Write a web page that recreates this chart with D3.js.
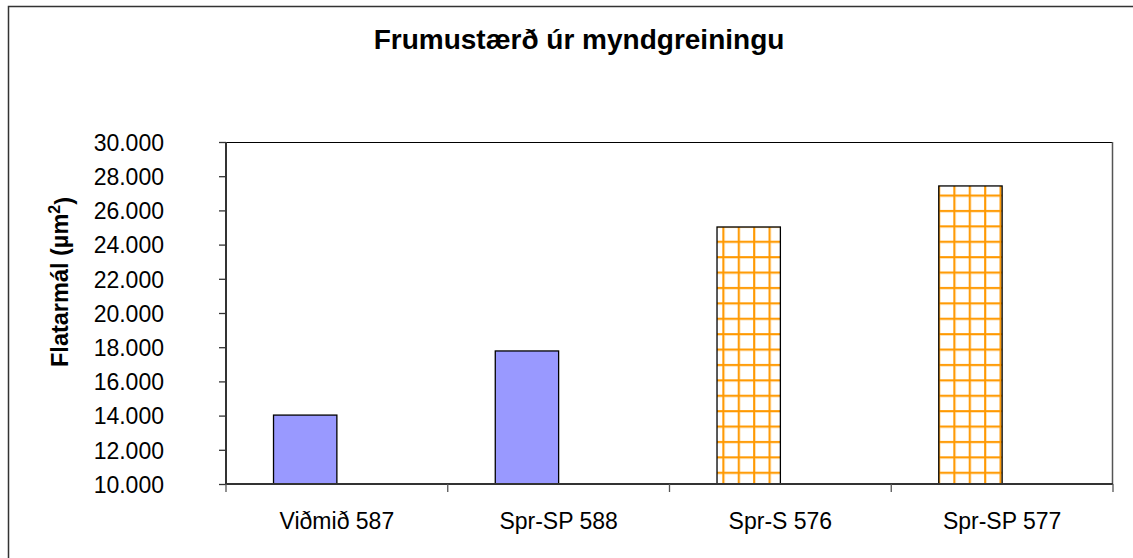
<!DOCTYPE html>
<html>
<head>
<meta charset="utf-8">
<script src="https://cdn.jsdelivr.net/npm/d3@7"></script>
<style>
  body { margin: 0; background: #fff; }
  svg { display: block; font-family: "Liberation Sans", Arial, sans-serif; }
</style>
</head>
<body>
<div id="chart"></div>
<script>

// chart data
const categories = ["Viðmið 587", "Spr-SP 588", "Spr-S 576", "Spr-SP 577"];
const solidSeries = [14030, 17780, null, null];
const gridSeries = [null, null, 25030, 27430];
const yTicks = [10000, 12000, 14000, 16000, 18000, 20000, 22000, 24000, 26000, 28000, 30000];
const titleText = "Frumustærð úr myndgreiningu";

const W = 1133, H = 558;
const margin = {top: 142, right: 20, bottom: 74, left: 226};
const width = W - margin.left - margin.right;
const height = H - margin.top - margin.bottom;

const svg = d3.select("#chart").append("svg")
	.attr("width", W)
	.attr("height", H);

// outer chart border
svg.append("rect")
	.attr("x", 8.5).attr("y", 6.5)
	.attr("width", W + 20).attr("height", H + 20)
	.attr("fill", "none")
	.attr("stroke", "#333")
	.attr("stroke-width", 1.5);

// title
svg.append("text")
	.attr("x", 579).attr("y", 49)
	.attr("text-anchor", "middle")
	.style("font-size", "28px")
	.style("font-weight", "bold")
	.text(titleText);

// orange grid pattern
const cell = 15.4;
const pat = svg.append("defs").append("pattern")
	.attr("id", "grid")
	.attr("patternUnits", "userSpaceOnUse")
	.attr("x", 727.3).attr("y", 237.3)
	.attr("width", cell).attr("height", cell);
pat.append("rect").attr("width", cell).attr("height", cell).attr("fill", "#fff");
[["#ffcf85", 3], ["#ff9900", 1.8]].forEach(([c, w]) => {
	pat.append("line").attr("x1", 1).attr("x2", 1).attr("y1", 0).attr("y2", cell)
		.attr("stroke", c).attr("stroke-width", w);
	pat.append("line").attr("x1", 0).attr("x2", cell).attr("y1", 1).attr("y2", 1)
		.attr("stroke", c).attr("stroke-width", w);
});

const g = svg.append("g")
	.attr("transform", "translate(" + margin.left + "," + margin.top + ")");

// scales
const x = d3.scaleBand()
	.domain(categories)
	.range([0, width])
	.padding(0);

// two slots per category (gap width 150%)
const xSlot = d3.scaleBand()
	.domain(["a", "b"])
	.range([0, x.bandwidth()])
	.paddingInner(0)
	.paddingOuter(0.75);

const y = d3.scaleLinear()
	.domain([10000, 30000])
	.range([height, 0]);

const locale = d3.formatLocale({decimal: ",", thousands: ".", grouping: [3], currency: ["", ""]});
const fmt = locale.format(",.0f");

// plot area frame (top + right)
g.append("path")
	.attr("d", "M0,0.5H" + width)
	.attr("stroke", "#000").attr("stroke-width", 1.2).attr("fill", "none");
g.append("path")
	.attr("d", "M" + (width - 0.5) + ",0V" + height)
	.attr("stroke", "#555").attr("stroke-width", 1.5).attr("fill", "none");

// bars
function drawBars(vals, fill) {
	g.selectAll(null)
		.data(categories.map((c, i) => ({c: c, v: vals[i]})).filter(d => d.v != null))
		.enter().append("rect")
		.attr("x", d => x(d.c) + xSlot("a"))
		.attr("y", d => y(d.v))
		.attr("width", xSlot.bandwidth())
		.attr("height", d => height - y(d.v))
		.attr("fill", fill)
		.attr("stroke", "#000")
		.attr("stroke-width", 1.3);
}
drawBars(solidSeries, "#9999ff");
drawBars(gridSeries, "url(#grid)");

// y axis
const yAxis = d3.axisLeft(y)
	.tickValues(yTicks)
	.tickFormat(fmt)
	.tickSize(7)
	.tickPadding(55);

g.append("g")
	.attr("class", "y-axis")
	.call(yAxis)
	.call(a => a.select(".domain").remove())
	.call(a => a.selectAll("line").attr("stroke", "#333").attr("stroke-width", 1.3))
	.call(a => a.selectAll("text")
		.attr("fill", "#000")
		.attr("dy", "0.36em")
		.style("font-size", "23px")
		.style("font-family", "'Liberation Sans', Arial, sans-serif"));

g.append("line")
	.attr("x1", 0).attr("x2", 0).attr("y1", 0).attr("y2", height)
	.attr("stroke", "#333").attr("stroke-width", 2);

// x axis
g.append("line")
	.attr("x1", 0).attr("x2", width).attr("y1", height).attr("y2", height)
	.attr("stroke", "#333").attr("stroke-width", 2);

g.selectAll(".xtick")
	.data(categories.concat(["end"]))
	.enter().append("line")
	.attr("x1", (d, i) => i < categories.length ? x(d) : width)
	.attr("x2", (d, i) => i < categories.length ? x(d) : width)
	.attr("y1", height)
	.attr("y2", height + 8)
	.attr("stroke", "#555")
	.attr("stroke-width", 1.3);

g.selectAll(".xlabel")
	.data(categories)
	.enter().append("text")
	.attr("x", d => x(d) + x.bandwidth() / 2)
	.attr("y", height + 45)
	.attr("text-anchor", "middle")
	.style("font-size", "23px")
	.text(d => d);

// y axis title
const yt = svg.append("text")
	.attr("transform", "translate(68,282) rotate(-90)")
	.attr("text-anchor", "middle")
	.style("font-size", "23.5px")
	.style("font-weight", "bold");
yt.append("tspan").text("Flatarmál (µm");
yt.append("tspan").attr("dy", "-0.5em").style("font-size", "16px").text("2");
yt.append("tspan").attr("dy", "0.5em").text(")");

</script>
</body>
</html>
